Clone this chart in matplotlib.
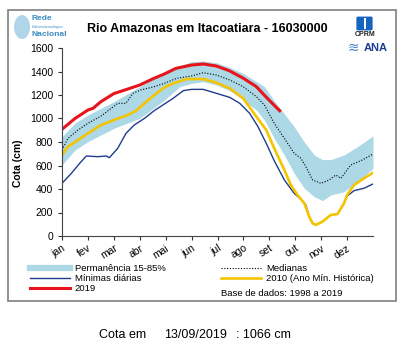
import numpy as np
import matplotlib
matplotlib.use('Agg')
import matplotlib.pyplot as plt
from matplotlib.lines import Line2D
from matplotlib.patches import Rectangle, Ellipse, FancyBboxPatch

plt.rcParams['font.family'] = ['Liberation Sans', 'DejaVu Sans']

# eixo x em meses (0 = 1 de janeiro, 12 = fim de dezembro)
months = ['jan', 'fev', 'mar', 'abr', 'mai', 'jun', 'jul', 'ago', 'set', 'out', 'nov', 'dez']

# faixa de permanencia 15-85%
band_x = [0, 0.5, 1, 2, 3, 3.95, 4.55, 5, 5.45, 5.96, 6.47, 6.99, 7.5, 7.81, 8.19, 8.58,
          8.96, 9.35, 9.73, 10.05, 10.37, 10.88, 11.4, 12]
band_hi = [845, 960, 1030, 1143, 1271, 1399, 1450, 1484, 1489, 1475, 1435, 1384, 1314, 1271,
           1150, 1040, 930, 800, 690, 650, 650, 689, 760, 851]
band_lo = [604, 732, 803, 916, 1001, 1157, 1271, 1299, 1314, 1285, 1237, 1158, 1072, 987,
           831, 689, 533, 406, 335, 301, 349, 377, 462, 576]

# medianas
med_x = [0, 0.23, 0.62, 1.0, 1.51, 1.9, 2.15, 2.47, 2.73, 3.05, 3.56, 3.95, 4.42, 5.0, 5.45,
         5.96, 6.47, 6.99, 7.5, 7.81, 8.19, 8.58, 8.96, 9.22, 9.41, 9.67, 9.99, 10.31, 10.56,
         10.76, 11.14, 11.59, 12]
med_y = [732, 831, 902, 959, 1021, 1087, 1129, 1129, 1214, 1243, 1271, 1299, 1342, 1362, 1390,
         1370, 1328, 1271, 1186, 1115, 959, 831, 704, 661, 590, 477, 448, 477, 519,
         491, 604, 647, 698]

# minimas diarias
min_x = [0, 0.36, 0.68, 0.94, 1.38, 1.7, 1.83, 2.15, 2.47, 2.79, 3.18, 3.56, 3.95, 4.29, 4.68,
         5.0, 5.45, 5.96, 6.47, 6.86, 7.24, 7.56, 7.88, 8.19, 8.58, 8.96, 9.22, 9.41, 9.54,
         9.67, 9.79, 10.05, 10.37, 10.63, 10.88, 11.0, 11.27, 11.65, 12]
min_y = [448, 533, 618, 681, 675, 681, 667, 746, 874, 945, 1001, 1067, 1123, 1172, 1237,
         1248, 1248, 1214, 1180, 1129, 1044, 931, 789, 640, 477, 363, 312, 264, 165,
         108, 94, 122, 179, 187, 278, 340, 386, 406, 443]

# 2010 (ano minimo historico)
y2010_x = [0, 0.23, 0.62, 1.0, 1.51, 2.0, 2.54, 2.86, 3.18, 3.56, 3.95, 4.29, 4.81, 5.45, 5.96,
           6.47, 6.99, 7.5, 7.88, 8.19, 8.58, 8.83, 9.09, 9.35, 9.54, 9.67, 9.79, 10.05, 10.37,
           10.63, 10.88, 11.0, 11.27, 11.65, 12]
y2010 = [689, 760, 817, 874, 945, 987, 1030, 1067, 1129, 1200, 1265, 1299, 1336, 1336, 1305,
         1257, 1172, 1016, 902, 746, 562, 434, 349, 278, 165, 108, 94, 122, 179,
         187, 278, 349, 434, 491, 539]

# 2019
y2019_x = [0, 0.5, 1.0, 1.2, 1.5, 2.0, 2.5, 3.0, 3.55, 3.95, 4.4, 5.0, 5.45, 5.95, 6.45, 7.0,
           7.5, 7.8, 8.05, 8.4]
y2019 = [908, 1000, 1072, 1087, 1143, 1212, 1248, 1285, 1342, 1379, 1427, 1455, 1464, 1447,
         1407, 1342, 1271, 1200, 1143, 1066]

c_band = '#add8e6'
c_min = '#1f3c8f'
c_2010 = '#f5c400'
c_2019 = '#e8141c'

fig = plt.figure(figsize=(4.07, 3.56), dpi=100)
ax = fig.add_axes([62 / 407, 1 - 236 / 356, 311 / 407, 188 / 356])

ax.fill_between(band_x, band_lo, band_hi, color=c_band, lw=0)
ax.plot(min_x, min_y, color=c_min, lw=1.0)
ax.plot(med_x, med_y, color='black', lw=0.8, ls=(0, (1, 1.5)))
ax.plot(y2010_x, y2010, color=c_2010, lw=1.9)
ax.plot(y2019_x, y2019, color=c_2019, lw=2.2)

ax.set_xlim(0, 12)
ax.set_ylim(0, 1600)
ax.set_yticks(np.arange(0, 1601, 200))
ax.set_xticks(np.arange(12))
ax.set_xticklabels(months, rotation=32, ha='right', rotation_mode='anchor')
ax.tick_params(axis='both', labelsize=7.5, colors='#333333', length=3, width=0.8)
ax.tick_params(axis='x', pad=2)
for s in ['top', 'right']:
    ax.spines[s].set_visible(False)
for s in ['left', 'bottom']:
    ax.spines[s].set_color('#444444')
    ax.spines[s].set_linewidth(0.8)
for lab in ax.get_xticklabels() + ax.get_yticklabels():
    lab.set_color('black')

fig.text(0.043, 0.541, 'Cota (cm)', rotation=90, ha='center', va='center',
         fontsize=7.5, fontweight='bold')
fig.text(0.509, 0.918, 'Rio Amazonas em Itacoatiara - 16030000', ha='center', va='center',
         fontsize=9, fontweight='bold')

handles = [Line2D([], [], color=c_band, lw=4.5),
           Line2D([], [], color=c_min, lw=1.0),
           Line2D([], [], color=c_2019, lw=2.2),
           Line2D([], [], color='black', lw=0.8, ls=(0, (1, 1.5))),
           Line2D([], [], color=c_2010, lw=1.9)]
labels = ['Permanência 15-85%', 'Mínimas diárias', '2019', 'Medianas',
          '2010 (Ano Mín. Histórica)']
fig.legend(handles, labels, loc='upper left', bbox_to_anchor=(30 / 407, 1 - 264 / 356),
           ncol=2, frameon=False, fontsize=6.8, borderpad=0, borderaxespad=0,
           handlelength=4.2, handletextpad=0.55, columnspacing=5.9, labelspacing=0.12)
fig.text(221 / 407, 1 - 293.5 / 356, 'Base de dados: 1998 a 2019', fontsize=6.8,
         ha='left', va='center')

# moldura
fig.patches.append(Rectangle((8 / 407, 1 - 301 / 356), 388 / 407, 291 / 356,
                             transform=fig.transFigure, fill=False, ec='#7f7f7f', lw=1.2))

# logos (aproximados)
fig.patches.append(Ellipse((22 / 407, 1 - 27 / 356), 16 / 407, 24 / 356,
                           transform=fig.transFigure, color='#8fc4e0', alpha=0.7, lw=0))
fig.text(32 / 407, 1 - 19 / 356, 'Rede', fontsize=6, color='#3d8cc4', va='center',
         fontweight='bold', fontstretch='condensed')
fig.text(32 / 407, 1 - 27 / 356, 'Hidrometeorológica', fontsize=2.6, color='#3d8cc4',
         va='center')
fig.text(32 / 407, 1 - 34.5 / 356, 'Nacional', fontsize=6, color='#3d8cc4', va='center',
         fontweight='bold', fontstretch='condensed')

fig.patches.append(FancyBboxPatch((358 / 407, 1 - 29 / 356), 13 / 407, 11 / 356,
                                  boxstyle='round,pad=0.004', transform=fig.transFigure,
                                  color='#1565c0', lw=0))
fig.patches.append(Rectangle((363.5 / 407, 1 - 29 / 356), 2.5 / 407, 11 / 356,
                             transform=fig.transFigure, color='white', lw=0))
fig.text(365 / 407, 1 - 35 / 356, 'CPRM', fontsize=5, fontweight='bold', ha='center',
         va='center', color='#222222')
fig.text(353 / 407, 1 - 48 / 356, '≋', fontsize=10, ha='center', va='center', color='#4a86c5')
fig.text(376 / 407, 1 - 48 / 356, 'ANA', fontsize=8, fontweight='bold', ha='center',
         va='center', color='#1c3f94')

# cota atual
fig.text(99 / 407, 1 - 335 / 356, 'Cota em', fontsize=9, va='center')
fig.text(164 / 407, 1 - 335 / 356, '13/09/2019', fontsize=9, va='center')
fig.text(236 / 407, 1 - 335 / 356, ': 1066 cm', fontsize=9, va='center')

fig.savefig('out.png', dpi=100)
